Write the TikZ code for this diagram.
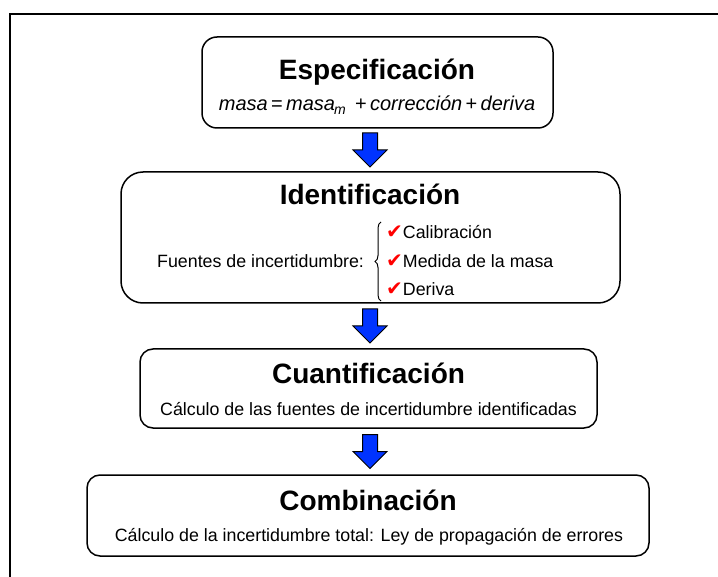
\documentclass[tikz,border=0pt]{standalone}
\usepackage{fontspec}
\setmainfont{Liberation Sans}
\newfontfamily\dejavu{DejaVu Sans}
\usetikzlibrary{decorations.pathreplacing,calc}
\definecolor{arrowblue}{RGB}{0,51,255}
\definecolor{chkred}{RGB}{255,0,0}
\newcommand\chk{{\fontsize{20}{20}\dejavu\color{chkred}✔}}
\begin{document}
\begin{tikzpicture}[x=1pt,y=-1pt,
  box/.style={draw, line width=1.5pt, rounded corners=#1, inner sep=0pt, fill=white},
  title/.style={font=\fontsize{28}{30}\selectfont\bfseries, anchor=base, inner sep=0pt},
  body/.style={font=\fontsize{17.8}{20}\selectfont, anchor=base, inner sep=0pt},
  formula/.style={font=\fontsize{20}{22}\selectfont, anchor=base, inner sep=0pt},
  barrow/.style={draw=black, line width=1pt, fill=arrowblue, line join=miter},
  bracestyle/.style={decorate, decoration={brace, amplitude=6pt}, line width=1pt}]
\useasboundingbox (0,0) rectangle (718,577);
% outer frame
\draw[line width=2pt] (10,577) -- (10,14) -- (718,14);
% boxes
\node[box=15pt, minimum width=351pt, minimum height=91pt] (b1) at (377.5,82.5) {};
\node[title] (t1) at (377,80) {Especificación};
\node[formula] (f1) at (377,111) {\textit{masa}\,=\,\textit{masa}\textsubscript{\kern-1pt\textit{m}}\;\,+\,\textit{corrección}\,+\,\textit{deriva}};

\node[box=22pt, minimum width=499pt, minimum height=131pt] (b2) at (370.5,237.5) {};
\node[title] (t2) at (370,205) {Identificación};
\node[body, anchor=base west] (fu) at (157,268) {Fuentes de incertidumbre:};
\coordinate (brb) at (381,301);
\coordinate (brt) at (381,222);
\draw[bracestyle] (brb) -- (brt);
\node[body, anchor=base west] (i1) at (386,239) {\chk Calibración};
\node[body, anchor=base west] (i2) at (386,268) {\chk Medida de la masa};
\node[body, anchor=base west] (i3) at (386,296) {\chk Deriva};

\node[box=13pt, minimum width=457pt, minimum height=79pt] (b3) at (368.5,388.5) {};
\node[title] (t3) at (368.5,384) {Cuantificación};
\node[body] (s3) at (368.5,415) {Cálculo de las fuentes de incertidumbre identificadas};

\node[box=13pt, minimum width=562pt, minimum height=81pt] (b4) at (368,515.5) {};
\node[title] (t4) at (368,510) {Combinación};
\node[body] (s4) at (369,541) {Cálculo de la incertidumbre total: Ley de propagación de errores};

% block arrows
\coordinate (m1) at ($(b1.south)!0.5!(b2.north)$);
\coordinate (m2) at ($(b2.south)!0.5!(b3.north)$);
\coordinate (m3) at ($(b3.south)!0.5!(b4.north)$);
\foreach \m in {m1,m2,m3}{
  \draw[barrow] (370,0 |- \m) ++(-7.5,-17) -- ++(15,0) -- ++(0,17) -- ++(9.5,0) -- ++(-17,17) -- ++(-17,-17) -- ++(9.5,0) -- cycle;
}
\end{tikzpicture}
\end{document}
